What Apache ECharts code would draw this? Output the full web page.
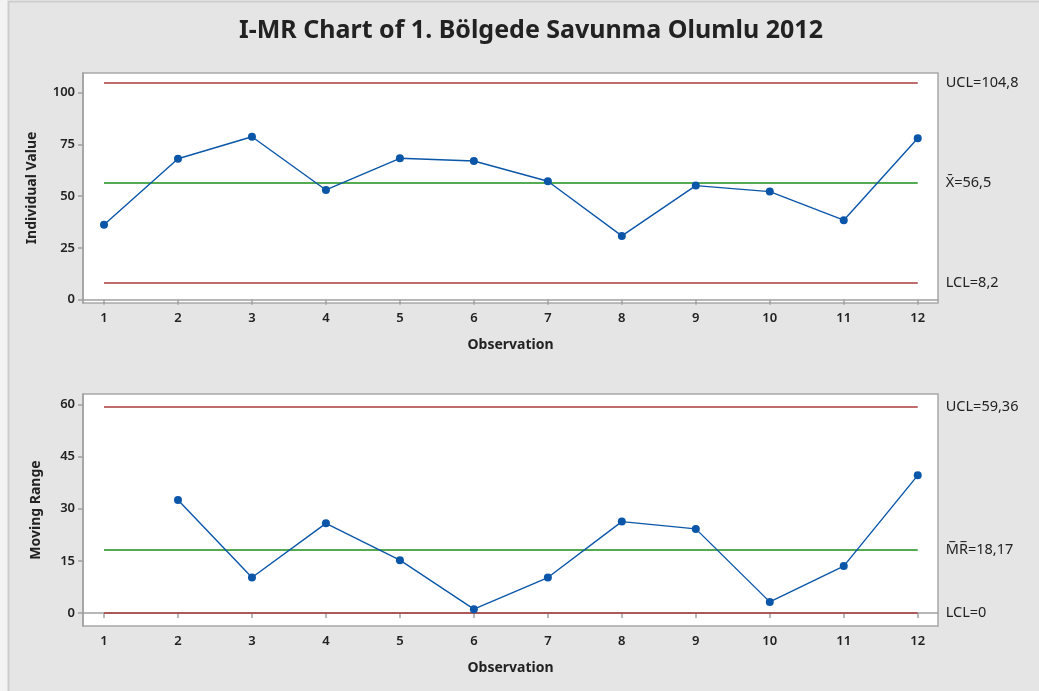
<!DOCTYPE html>
<html>
<head>
<meta charset="utf-8">
<title>I-MR Chart</title>
<script src="https://cdn.jsdelivr.net/npm/echarts@6/dist/echarts.min.js"></script>
<style>
  html, body { margin: 0; padding: 0; background: #f3f3f3; }
  #main { width: 1039px; height: 691px; }
</style>
</head>
<body>
<div id="main"></div>
<script>
// observations
const observations = [1, 2, 3, 4, 5, 6, 7, 8, 9, 10, 11, 12];
// individual values
const individualValues = [36.2, 68.1, 78.7, 53.0, 68.3, 67.0, 57.2, 30.8, 55.1, 52.2, 38.4, 78.0];
// moving ranges, start at observation 2
const movingRanges = [32.5, 10.2, 25.8, 15.2, 1.1, 10.2, 26.3, 24.2, 3.2, 13.5, 39.6];
// control limits: [UCL, CL, LCL]
const iLimits = [104.8, 56.5, 8.2];
const iLimitLabels = ['UCL=104,8', 'X\u0304=56,5', 'LCL=8,2'];
const mrLimits = [59.36, 18.17, 0];
const mrLimitLabels = ['UCL=59,36', 'M\u0305R\u0305=18,17', 'LCL=0'];
// tick labels
const iTicks = [0, 25, 50, 75, 100];
const mrTicks = [0, 15, 30, 45, 60];

const FONT = 'Noto Sans';
const red = '#a93a3a';
const green = '#1b8f1b';
const blue = '#0b56a8';

const chart = echarts.init(document.getElementById('main'));

function limitLines(limits, labels) {
  const colors = [red, green, red];
  const first = observations[0];
  const last = observations[observations.length - 1];
  return {
    silent: true,
    symbol: 'none',
    animation: false,
    data: limits.map((v, i) => [
      {
        coord: [first, v],
        lineStyle: { color: colors[i], width: 1.6, type: 'solid' },
        label: {
          show: true,
          position: 'end',
          distance: 28,
          formatter: labels[i],
          color: '#222',
          fontFamily: FONT,
          fontSize: 14.5
        }
      },
      { coord: [last, v] }
    ])
  };
}

function xAxis(gridIndex) {
  return {
    type: 'value',
    gridIndex: gridIndex,
    min: 0.716,
    max: 12.274,
    name: 'Observation',
    nameLocation: 'middle',
    nameGap: 35,
    nameTextStyle: { fontFamily: FONT, fontWeight: 'bold', fontSize: 14, color: '#222' },
    axisLine: { show: true, lineStyle: { color: '#a0a0a0', width: 1.5 } },
    axisTick: { show: true, length: 5, customValues: observations, lineStyle: { color: '#a0a0a0', width: 1.5 } },
    axisLabel: { customValues: observations, margin: 9, fontFamily: FONT, fontWeight: 600, fontSize: 13, color: '#222' },
    splitLine: { show: false }
  };
}

function yAxis(gridIndex, min, max, ticks, name, gap) {
  return {
    type: 'value',
    gridIndex: gridIndex,
    min: min,
    max: max,
    name: name,
    nameLocation: 'middle',
    nameGap: gap,
    nameTextStyle: { fontFamily: FONT, fontWeight: 'bold', fontSize: 14, color: '#222' },
    axisLine: { show: true, lineStyle: { color: '#a0a0a0', width: 1.5 } },
    axisTick: { show: true, length: 5, customValues: ticks, lineStyle: { color: '#a0a0a0', width: 1.5 } },
    axisLabel: { customValues: ticks, margin: 8, fontFamily: FONT, fontWeight: 600, fontSize: 13, color: '#222' },
    splitLine: { show: false }
  };
}

chart.setOption({
  animation: false,
  backgroundColor: '#f3f3f3',
  graphic: [
    {
      type: 'rect',
      z: -10,
      shape: { x: 8.5, y: 1.5, width: 1040, height: 700 },
      style: { fill: '#e5e5e5', stroke: '#cdcdcd', lineWidth: 2 }
    }
  ],
  title: {
    text: 'I-MR Chart of 1. Bölgede Savunma Olumlu 2012',
    left: 526,
    top: 13,
    textAlign: 'center',
    textStyle: { fontFamily: FONT, fontWeight: 'bold', fontSize: 25, color: '#222' }
  },
  grid: [
    { left: 83, top: 73, width: 855, height: 230, show: true, backgroundColor: '#fff', borderColor: '#a8a8a8', borderWidth: 1.5 },
    { left: 83, top: 394, width: 855, height: 232, show: true, backgroundColor: '#fff', borderColor: '#a8a8a8', borderWidth: 1.5 }
  ],
  xAxis: [xAxis(0), xAxis(1)],
  yAxis: [
    yAxis(0, -1.6, 109.5, iTicks, 'Individual Value', 44),
    yAxis(1, -3.74, 63.0, mrTicks, 'Moving Range', 40)
  ],
  series: [
    {
      type: 'line',
      xAxisIndex: 0,
      yAxisIndex: 0,
      data: observations.map((o, i) => [o, individualValues[i]]),
      symbol: 'circle',
      symbolSize: 8,
      lineStyle: { color: blue, width: 1.4 },
      itemStyle: { color: blue },
      markLine: limitLines(iLimits, iLimitLabels),
      z: 5
    },
    {
      type: 'line',
      xAxisIndex: 1,
      yAxisIndex: 1,
      data: movingRanges.map((v, i) => [observations[i + 1], v]),
      symbol: 'circle',
      symbolSize: 8,
      lineStyle: { color: blue, width: 1.4 },
      itemStyle: { color: blue },
      markLine: limitLines(mrLimits, mrLimitLabels),
      z: 5
    }
  ]
});
</script>
</body>
</html>
